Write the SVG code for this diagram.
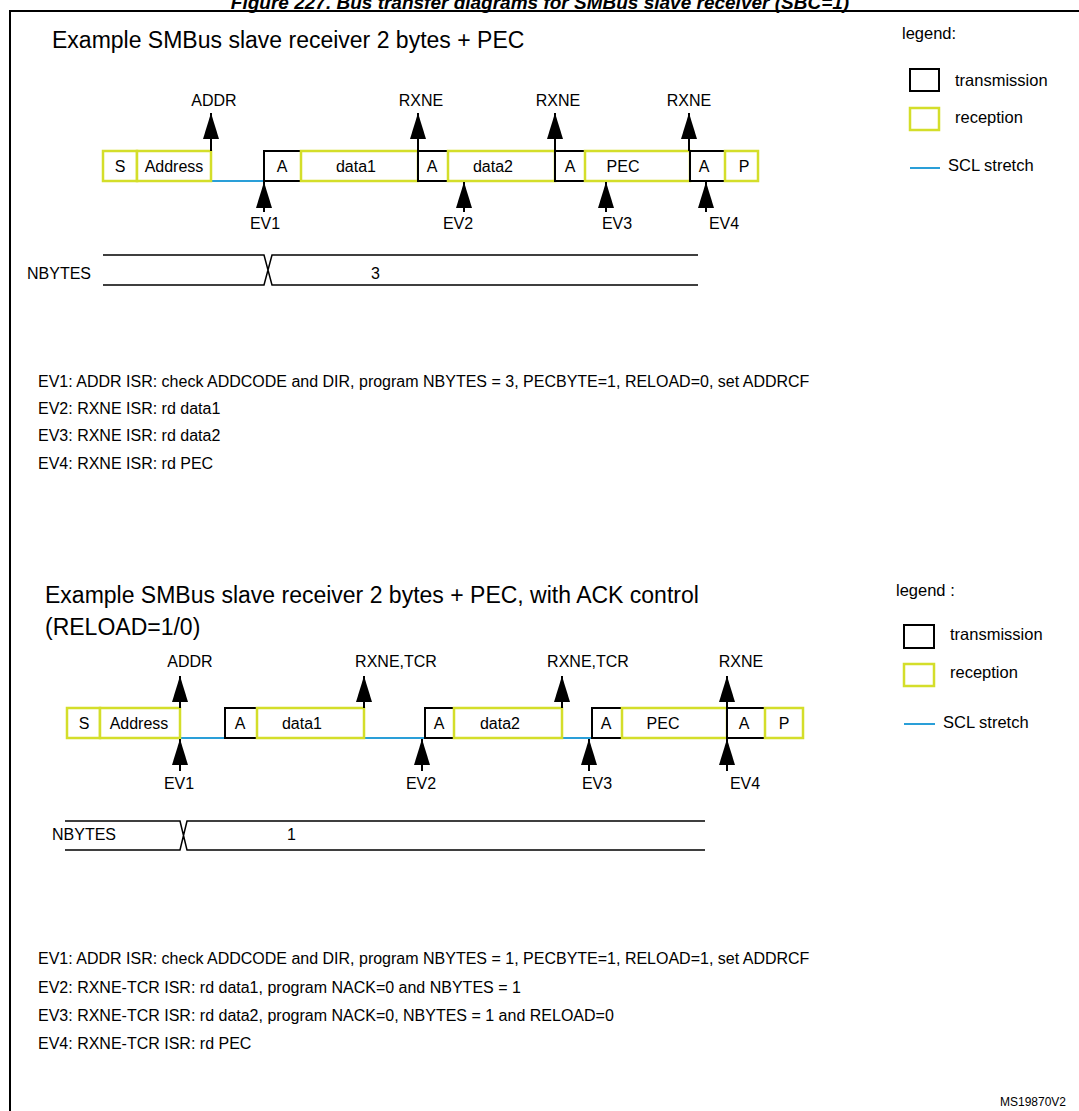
<svg xmlns="http://www.w3.org/2000/svg" width="1079" height="1111" viewBox="0 0 1079 1111">
<style>
text{font-family:"Liberation Sans",Arial,sans-serif;fill:#000}
.t{font-size:16px}
.l{font-size:16.5px}
.b{font-size:16px;text-anchor:middle}
.h{font-size:23px}
.tx{fill:#fff;stroke:#000;stroke-width:2}
.rx{fill:#fff;stroke:#d4de2a;stroke-width:2.5}
.scl{stroke:#2a9fd8;stroke-width:2}
.ln{stroke:#000;stroke-width:1.5;fill:none}
.ar{stroke:#000;stroke-width:2}
</style>
<defs>
<marker id="ah" viewBox="0 0 26 16" refX="26" refY="8" markerWidth="26" markerHeight="16" markerUnits="userSpaceOnUse" orient="auto"><path d="M26 8 L0 0 L0 16 Z" fill="#000"/></marker>
</defs>
<rect width="1079" height="1111" fill="#fff"/>
<text x="540" y="9" font-weight="bold" font-style="italic" text-anchor="middle" style="font-size:19px">Figure 227. Bus transfer diagrams for SMBus slave receiver (SBC=1)</text>
<path d="M10 1111 V11 H1079" stroke="#000" stroke-width="2" fill="none"/>

<g id="top">
<text class="h" x="52" y="48">Example SMBus slave receiver 2 bytes + PEC</text>
<g id="legend1">
<text class="l" x="902" y="39">legend:</text>
<rect class="tx" x="910" y="69" width="29" height="22" stroke-width="1.5"/>
<text class="l" x="955" y="86">transmission</text>
<rect class="rx" x="910" y="108" width="29" height="22"/>
<text class="l" x="955" y="123">reception</text>
<line class="scl" x1="910" y1="168" x2="940" y2="168"/>
<text class="l" x="948" y="171">SCL stretch</text>
</g>
<g id="frame1">
<line class="scl" x1="211" y1="181" x2="264" y2="181"/>
<rect class="rx" x="103" y="151" width="34" height="30"/><text class="b" x="120" y="172">S</text>
<rect class="rx" x="137" y="151" width="74" height="30"/><text class="b" x="174" y="172">Address</text>
<rect class="tx" x="264" y="151" width="37" height="30"/><text class="b" x="282" y="172">A</text>
<rect class="rx" x="301" y="151" width="117" height="30"/><text class="b" x="356" y="172">data1</text>
<rect class="tx" x="418" y="151" width="30" height="30"/><text class="b" x="432" y="172">A</text>
<rect class="rx" x="448" y="151" width="107" height="30"/><text class="b" x="493" y="172">data2</text>
<rect class="tx" x="555" y="151" width="30" height="30"/><text class="b" x="570" y="172">A</text>
<rect class="rx" x="585" y="151" width="105" height="30"/><text class="b" x="623" y="172">PEC</text>
<rect class="tx" x="690" y="151" width="35" height="30"/><text class="b" x="704" y="172">A</text>
<rect class="rx" x="725" y="151" width="33" height="30"/><text class="b" x="744" y="172">P</text>
</g>
<g id="conn1">
<line class="ar" x1="211" y1="151" x2="211" y2="113" marker-end="url(#ah)"/>
<line class="ar" x1="418" y1="151" x2="418" y2="113" marker-end="url(#ah)"/>
<line class="ar" x1="555" y1="151" x2="555" y2="113" marker-end="url(#ah)"/>
<line class="ar" x1="689" y1="151" x2="689" y2="113" marker-end="url(#ah)"/>
<line class="ar" x1="264" y1="212" x2="264" y2="182" marker-end="url(#ah)"/>
<line class="ar" x1="464" y1="212" x2="464" y2="182" marker-end="url(#ah)"/>
<line class="ar" x1="606" y1="212" x2="606" y2="182" marker-end="url(#ah)"/>
<line class="ar" x1="706" y1="212" x2="706" y2="182" marker-end="url(#ah)"/>
</g>
<text class="b" x="214" y="106">ADDR</text>
<text class="b" x="421" y="106">RXNE</text>
<text class="b" x="558" y="106">RXNE</text>
<text class="b" x="689" y="106">RXNE</text>
<text class="b" x="265" y="229">EV1</text>
<text class="b" x="458" y="229">EV2</text>
<text class="b" x="617" y="229">EV3</text>
<text class="b" x="724" y="229">EV4</text>
<g id="nbytes1">
<text class="t" x="27" y="279">NBYTES</text>
<path class="ln" d="M103 255 H264 L272 285 H698 M103 285 H264 L272 255 H698"/>
<text class="t" x="371" y="279">3</text>
</g>
<text class="t" x="38" y="387">EV1: ADDR ISR: check ADDCODE and DIR, program NBYTES = 3, PECBYTE=1, RELOAD=0, set ADDRCF</text>
<text class="t" x="38" y="414">EV2: RXNE ISR: rd data1</text>
<text class="t" x="38" y="441">EV3: RXNE ISR: rd data2</text>
<text class="t" x="38" y="469">EV4: RXNE ISR: rd PEC</text>
</g>

<g id="bottom">
<text class="h" x="45" y="603">Example SMBus slave receiver 2 bytes + PEC, with ACK control</text>
<text class="h" x="45" y="635">(RELOAD=1/0)</text>
<g id="legend2">
<text class="l" x="896" y="596">legend :</text>
<rect class="tx" x="904" y="625" width="30" height="23" stroke-width="1.5"/>
<text class="l" x="950" y="640">transmission</text>
<rect class="rx" x="904" y="664" width="30" height="22"/>
<text class="l" x="950" y="678">reception</text>
<line class="scl" x1="904" y1="724" x2="935" y2="724"/>
<text class="l" x="943" y="728">SCL stretch</text>
</g>
<g id="frame2">
<line class="scl" x1="180" y1="738" x2="225" y2="738"/>
<line class="scl" x1="364" y1="738" x2="425" y2="738"/>
<line class="scl" x1="562" y1="738" x2="592" y2="738"/>
<rect class="rx" x="67" y="708" width="33" height="30"/><text class="b" x="84" y="729">S</text>
<rect class="rx" x="100" y="708" width="80" height="30"/><text class="b" x="139" y="729">Address</text>
<rect class="tx" x="225" y="708" width="32" height="30"/><text class="b" x="240" y="729">A</text>
<rect class="rx" x="257" y="708" width="107" height="30"/><text class="b" x="302" y="729">data1</text>
<rect class="tx" x="425" y="708" width="29" height="30"/><text class="b" x="439" y="729">A</text>
<rect class="rx" x="454" y="708" width="108" height="30"/><text class="b" x="500" y="729">data2</text>
<rect class="tx" x="592" y="708" width="30" height="30"/><text class="b" x="606" y="729">A</text>
<rect class="rx" x="622" y="708" width="105" height="30"/><text class="b" x="663" y="729">PEC</text>
<rect class="tx" x="727" y="708" width="38" height="30"/><text class="b" x="744" y="729">A</text>
<rect class="rx" x="765" y="708" width="38" height="30"/><text class="b" x="784" y="729">P</text>
</g>
<g id="conn2">
<line class="ar" x1="180" y1="708" x2="180" y2="676" marker-end="url(#ah)"/>
<line class="ar" x1="364" y1="708" x2="364" y2="676" marker-end="url(#ah)"/>
<line class="ar" x1="562" y1="708" x2="562" y2="676" marker-end="url(#ah)"/>
<line class="ar" x1="727" y1="708" x2="727" y2="676" marker-end="url(#ah)"/>
<line class="ar" x1="180" y1="771" x2="180" y2="739" marker-end="url(#ah)"/>
<line class="ar" x1="422" y1="771" x2="422" y2="739" marker-end="url(#ah)"/>
<line class="ar" x1="589" y1="771" x2="589" y2="739" marker-end="url(#ah)"/>
<line class="ar" x1="727" y1="771" x2="727" y2="739" marker-end="url(#ah)"/>
</g>
<text class="b" x="190" y="667">ADDR</text>
<text class="b" x="396" y="667">RXNE,TCR</text>
<text class="b" x="588" y="667">RXNE,TCR</text>
<text class="b" x="741" y="667">RXNE</text>
<text class="b" x="179" y="789">EV1</text>
<text class="b" x="421" y="789">EV2</text>
<text class="b" x="597" y="789">EV3</text>
<text class="b" x="745" y="789">EV4</text>
<g id="nbytes2">
<text class="t" x="52" y="840">NBYTES</text>
<path class="ln" d="M65 821 H180 L187 850 H705 M65 850 H180 L187 821 H705"/>
<text class="t" x="287" y="840">1</text>
</g>
<text class="t" x="38" y="964">EV1: ADDR ISR: check ADDCODE and DIR, program NBYTES = 1, PECBYTE=1, RELOAD=1, set ADDRCF</text>
<text class="t" x="38" y="993">EV2: RXNE-TCR ISR: rd data1, program NACK=0 and NBYTES = 1</text>
<text class="t" x="38" y="1021">EV3: RXNE-TCR ISR: rd data2, program NACK=0, NBYTES = 1 and RELOAD=0</text>
<text class="t" x="38" y="1049">EV4: RXNE-TCR ISR: rd PEC</text>
<text x="1066" y="1106" text-anchor="end" style="font-size:12px">MS19870V2</text>
</g>
</svg>
